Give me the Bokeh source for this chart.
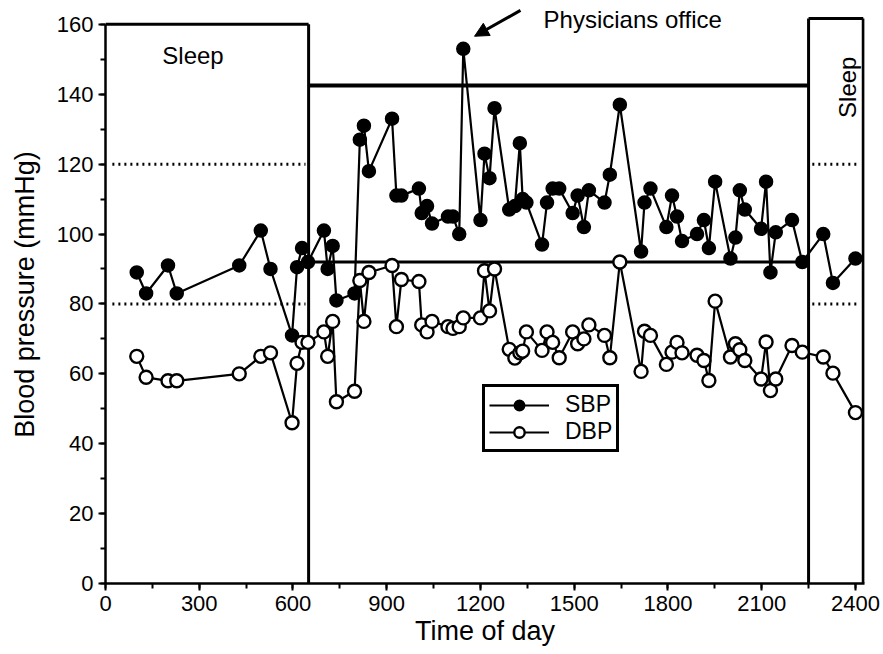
import math
from bokeh.plotting import figure
from bokeh.models import (Range1d, SingleIntervalTicker, Label, Arrow, NormalHead,
                          Legend, LegendItem, ColumnDataSource)
from bokeh.embed import file_html
from bokeh.resources import INLINE

# ---- data ----
time_of_day = [100, 130, 200, 228, 428, 497, 528, 597, 613, 629, 648,
               699, 711, 727, 739, 797, 814, 827, 843,
               917, 931, 947,
               1003, 1012, 1029, 1045, 1096, 1112, 1132, 1145,
               1200, 1213, 1229, 1245,
               1292, 1310, 1326, 1335, 1347,
               1397, 1413, 1431, 1452, 1495, 1511, 1531, 1547, 1597, 1614,
               1646,
               1714, 1725, 1744, 1795, 1813, 1829, 1845,
               1893, 1915, 1931, 1951,
               2000, 2016, 2030, 2046,
               2098, 2114, 2128, 2145,
               2197, 2230, 2297, 2328, 2400]
sbp = [89, 83, 91, 83, 91, 101, 90, 71, 90.5, 96, 92,
       101, 90, 96.6, 81, 83, 127, 131, 118,
       133, 111, 111,
       113, 106, 108, 103, 105, 105, 100, 153,
       104, 123, 116, 136,
       107, 108, 126, 110, 109,
       97, 109, 113, 113, 106, 111, 102, 112.5, 109, 117,
       137,
       95, 109, 113, 102, 111, 105, 98,
       100, 104, 96, 115,
       93, 99, 112.5, 107,
       101.5, 115, 89, 100.5,
       104, 92, 100, 86, 93]
dbp = [65, 59, 58, 58, 60, 65, 66, 46, 63, 69, 69,
       72, 65, 75, 52, 55, 86.7, 75, 89,
       91, 73.5, 87,
       86.4, 74, 72, 75, 73.5, 73, 73.5, 76,
       76, 89.5, 78, 90,
       67, 64.5, 66, 66.5, 72,
       66.7, 72, 69, 64.6, 72, 68.6, 70, 74, 71, 64.6,
       92,
       60.7, 72.2, 71, 62.7, 66.2, 69, 66,
       65.3, 63.8, 58.1, 80.8,
       64.8, 68.6, 66.9, 63.8,
       58.5, 69.1, 55.2, 58.5,
       68.1, 66.2, 64.8, 60.2, 48.9]

x_ticks_interval = 300
y_ticks_interval = 20
sleep_end = 650          # end of night sleep
sleep_start = 2250       # start of evening sleep
day_end = 2429           # right edge of the chart
day_limits = [142.5, 92]     # daytime SBP / DBP limits
night_limits = [120, 80]     # night-time SBP / DBP limits
box_top_left = 160
box_top_right = 161.7
office_time = 1145

FONT = "Liberation Sans"

p = figure(width=883, height=654, output_backend="svg", toolbar_location=None,
           x_range=Range1d(0, day_end), y_range=Range1d(0, 165.4),
           min_border_left=105, min_border_right=19, min_border_top=5,
           min_border_bottom=71)
p.outline_line_color = None
p.grid.visible = False
p.background_fill_color = "white"
p.border_fill_color = "white"

xa = p.xaxis[0]
ya = p.yaxis[0]
xa.ticker = SingleIntervalTicker(interval=x_ticks_interval, num_minor_ticks=2)
ya.ticker = SingleIntervalTicker(interval=y_ticks_interval, num_minor_ticks=2)
xa.bounds = (0, day_end)
ya.bounds = (0, 160)
xa.axis_label = "Time of day"
ya.axis_label = "Blood pressure (mmHg)"
for ax in (xa, ya):
    ax.axis_line_width = 2.5
    ax.axis_line_color = "black"
    ax.major_tick_line_width = 2
    ax.minor_tick_line_width = 2
    ax.major_tick_out = 7
    ax.major_tick_in = 0
    ax.minor_tick_out = 5
    ax.minor_tick_in = 0
    ax.major_label_text_font = FONT
    ax.major_label_text_font_size = "22px"
    ax.major_label_text_color = "black"
    ax.axis_label_text_font = FONT
    ax.axis_label_text_font_size = "27px"
    ax.axis_label_text_font_style = "normal"
    ax.axis_label_text_color = "black"
    ax.major_label_standoff = 5
xa.axis_label_standoff = 2
ya.axis_label_standoff = 14

# ---- sleep / wake boxes ----
BW = 3
p.line([0, sleep_end], [box_top_left, box_top_left], line_color="black", line_width=BW)
p.line([sleep_end, sleep_end], [0, box_top_left], line_color="black", line_width=BW)
p.line([sleep_end, sleep_start], [day_limits[0], day_limits[0]], line_color="black", line_width=4)
p.line([sleep_end, sleep_start], [day_limits[1], day_limits[1]], line_color="black", line_width=3)
p.line([sleep_start, sleep_start], [0, box_top_right], line_color="black", line_width=BW)
p.line([sleep_start, day_end - 4], [box_top_right, box_top_right], line_color="black", line_width=BW)
p.line([day_end - 4, day_end - 4], [0, box_top_right], line_color="black", line_width=BW)
for lim in night_limits:
    p.line([22, sleep_end - 10], [lim, lim], line_color="black", line_width=3, line_dash="2 4")
    p.line([sleep_start + 12, 2415], [lim, lim], line_color="black", line_width=3, line_dash="2 4")

# ---- data ----
src = ColumnDataSource(dict(t=time_of_day, sbp=sbp, dbp=dbp))
sbp_line = p.line("t", "sbp", source=src, line_color="black", line_width=2.2)
dbp_line = p.line("t", "dbp", source=src, line_color="black", line_width=2.2)
sbp_pts = p.scatter("t", "sbp", source=src, size=13, fill_color="black", line_color="black", line_width=1.5)
dbp_pts = p.scatter("t", "dbp", source=src, size=13, fill_color="white", line_color="black", line_width=2.4)

legend = Legend(items=[LegendItem(label="SBP", renderers=[sbp_line, sbp_pts]),
                       LegendItem(label="DBP", renderers=[dbp_line, dbp_pts])],
                location=(377, 131), orientation="vertical",
                glyph_width=60, glyph_height=26, label_standoff=16, padding=4,
                spacing=0, margin=0, label_height=26,
                label_text_font=FONT, label_text_font_size="23px",
                label_text_color="black",
                border_line_color="black", border_line_width=3, border_line_alpha=1,
                background_fill_color="white", background_fill_alpha=1)
p.add_layout(legend)

# ---- annotations ----
p.add_layout(Label(x=280, y=151, text="Sleep", text_align="center", text_baseline="middle",
                   text_font=FONT, text_font_size="24px", text_color="black"))
p.add_layout(Label(x=2374, y=142, text="Sleep", angle=math.pi / 2, text_align="center",
                   text_baseline="middle", text_font=FONT, text_font_size="24px",
                   text_color="black"))
p.add_layout(Label(x=1402, y=161.4, text="Physicians office", text_align="left",
                   text_baseline="middle", text_font=FONT, text_font_size="24px",
                   text_color="black"))
p.add_layout(Arrow(end=NormalHead(size=14, fill_color="black", line_color="black"),
                   x_start=1328, y_start=164, x_end=office_time + 36, y_end=156.6,
                   line_width=3, line_color="black"))

open("out.html", "w").write(file_html(p, INLINE))
